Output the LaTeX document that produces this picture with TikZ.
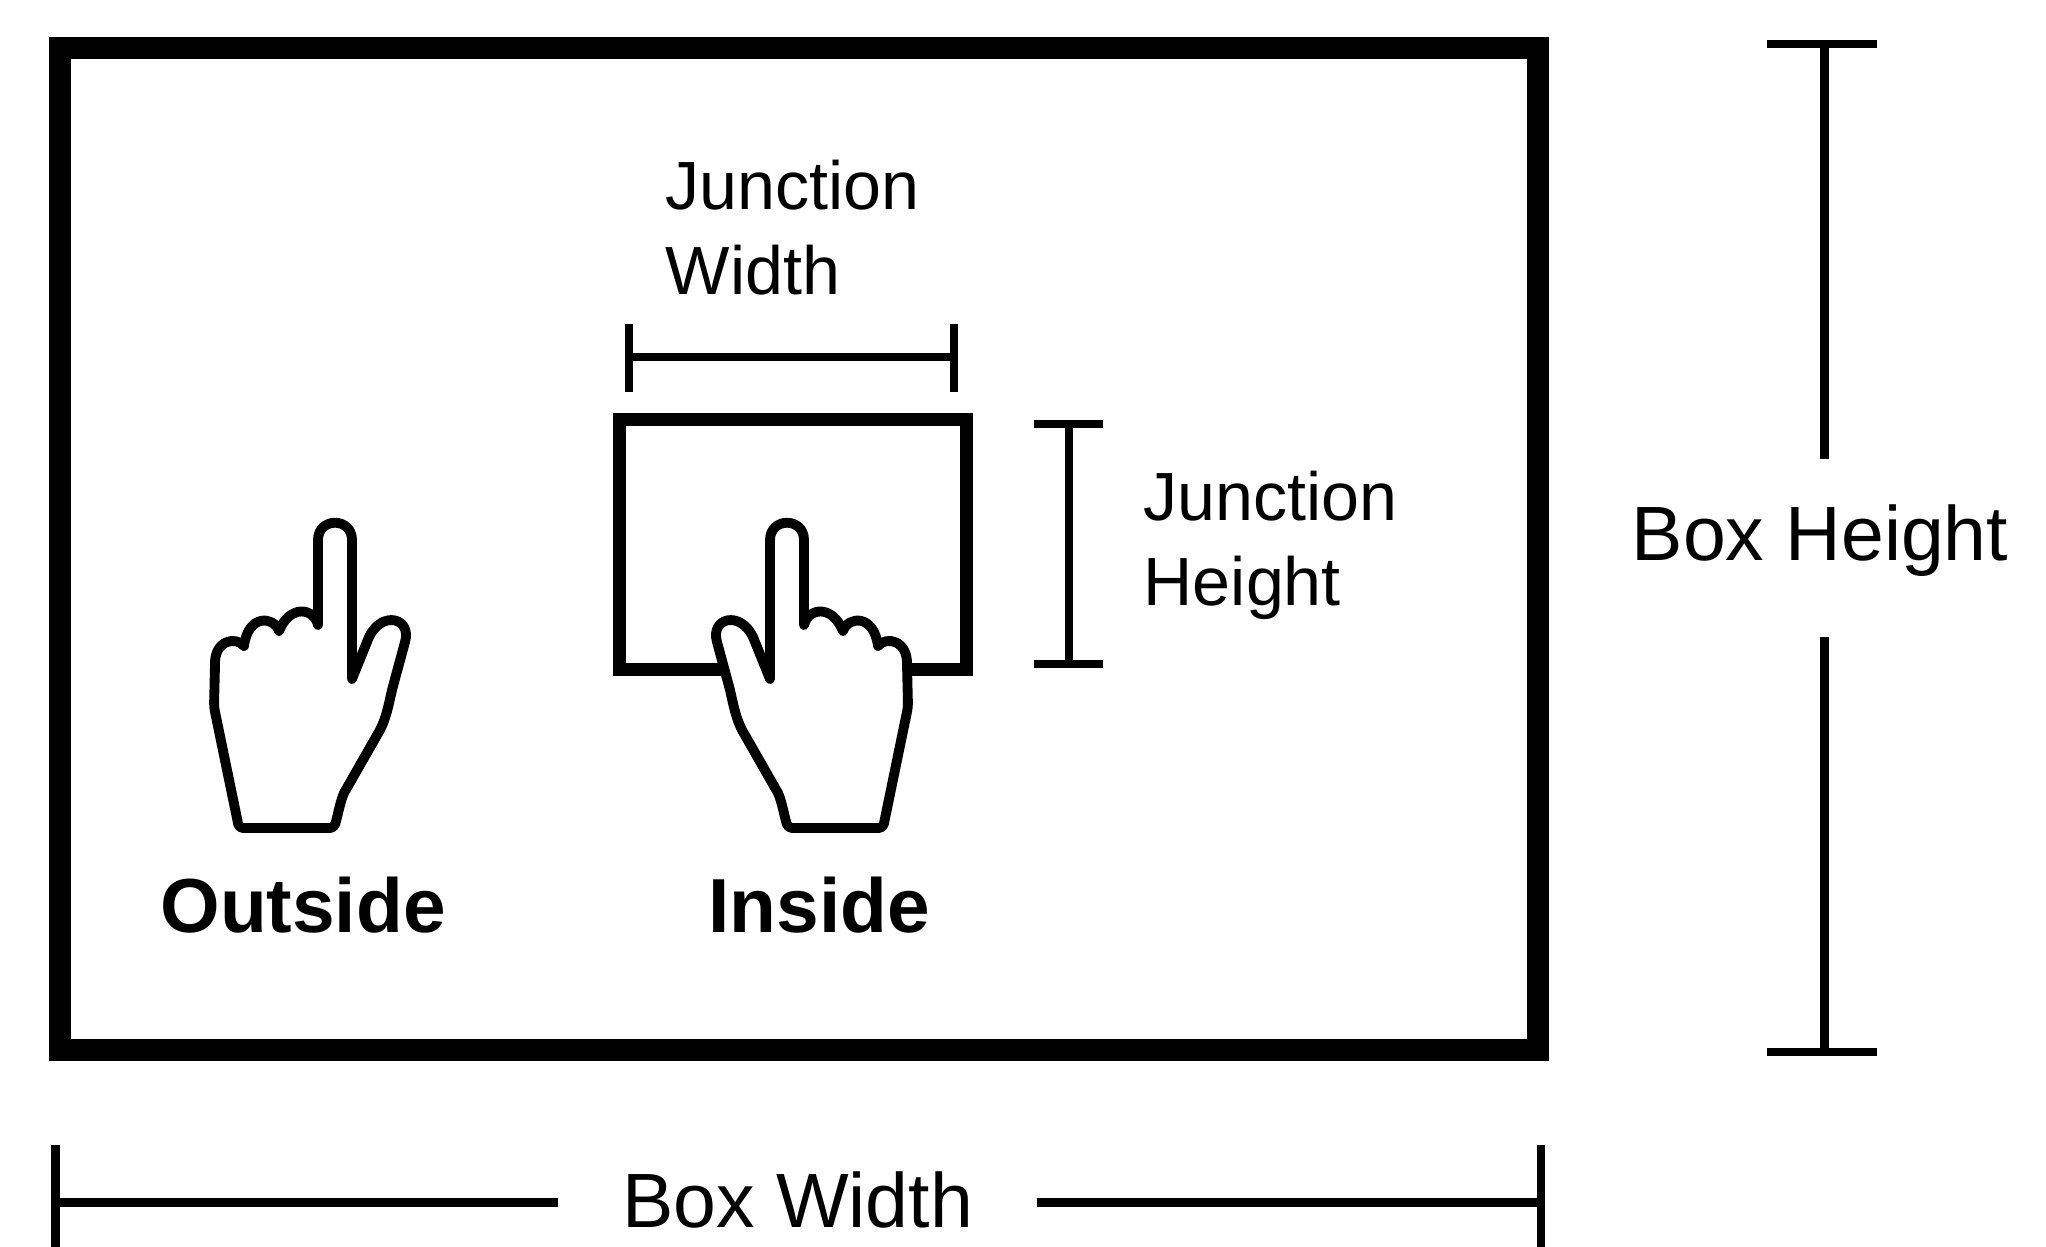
\documentclass[tikz,border=0pt]{standalone}
\usepackage{fontspec}
\setmainfont{Liberation Sans}
\tikzset{
  hand/.pic={
    \draw[line width=2.8pt,line join=round,fill=white]
      (-20,-151) -- (-20,-290) .. controls (-20,-313) and (14,-313) .. (14,-290)
      -- (14,-205) .. controls (18,-222) and (42,-226) .. (53,-199)
      .. controls (58,-214) and (84,-216) .. (88,-184)
      .. controls (96,-194) and (118,-190) .. (117,-165)
      [rounded corners=0.4mm] -- (118,-123) -- (93,-2) -- (-2,-2) [sharp corners]
      .. controls (-6,-15) and (-8,-28) .. (-12,-37)
      -- (-48,-100) .. controls (-54,-112) and (-56,-122) .. (-60,-140)
      -- (-73,-188) .. controls (-80,-212) and (-50,-220) .. (-37,-193) -- cycle;
  }
}
\begin{document}
\begin{tikzpicture}[x=0.1mm,y=-0.1mm,
  dimline/.style={line width=2.4pt},
  bigtext/.style={font=\fontsize{21.9}{26}\selectfont,inner sep=0pt},
  smalltext/.style={font=\fontsize{19.4}{24.2}\selectfont,inner sep=0pt,align=left,anchor=west},
  boldtext/.style={font=\fontsize{21.8}{26}\selectfont\bfseries,inner sep=0pt}]
\useasboundingbox (0,0) rectangle (2046,1247);

\draw[line width=6.1pt] (60,48) rectangle (1538,1050);
\draw[line width=3.7pt] (619.5,419.5) rectangle (966.5,669.5);

\pic at (790,830) {hand};
\pic[xscale=-1] at (332,830) {hand};

\node[boldtext] (outside) at (303,905) {Outside};
\node[boldtext] (inside) at (819,905) {Inside};
\node[smalltext] (jwidth) at (665,228) {Junction\\Width};
\node[smalltext] (jheight) at (1143,545.5) {Junction\\Height};
\node[bigtext,minimum width=47.7mm,minimum height=1pt,text depth=0.5mm] (bwidth) at (797.5,1202.5) {Box Width};
\node[bigtext,minimum height=17.6mm,text depth=3.1mm] (bheight) at (1820,548) {Box Height};

\coordinate (jwl) at (629,357);
\coordinate (jwr) at (954,357);
\coordinate (jwlt) at (629,324);
\coordinate (jwlb) at (629,392);
\coordinate (jwrt) at (954,324);
\coordinate (jwrb) at (954,392);
\coordinate (jht) at (1069,424);
\coordinate (jhb) at (1069,664);
\coordinate (jhtl) at (1034,424);
\coordinate (jhtr) at (1103,424);
\coordinate (jhbl) at (1034,664);
\coordinate (jhbr) at (1103,664);
\coordinate (bwl) at (55.5,1202.5);
\coordinate (bwr) at (1541,1202.5);
\coordinate (bwlt) at (55.5,1145);
\coordinate (bwlb) at (55.5,1247);
\coordinate (bwrt) at (1541,1145);
\coordinate (bwrb) at (1541,1247);
\coordinate (bht) at (1824.5,44);
\coordinate (bhb) at (1824.5,1052);
\coordinate (bhtl) at (1767,44);
\coordinate (bhtr) at (1877,44);
\coordinate (bhbl) at (1767,1052);
\coordinate (bhbr) at (1877,1052);

\draw[dimline] (jwl) -- (jwr);
\draw[dimline] (jwlt) -- (jwlb);
\draw[dimline] (jwrt) -- (jwrb);
\draw[dimline] (jht) -- (jhb);
\draw[dimline] (jhtl) -- (jhtr);
\draw[dimline] (jhbl) -- (jhbr);
\draw[dimline] (bwl) -- (bwidth.west);
\draw[dimline] (bwidth.east) -- (bwr);
\draw[dimline] (bwlt) -- (bwlb);
\draw[dimline] (bwrt) -- (bwrb);
\draw[dimline] (bht) -- (bht |- bheight.north);
\draw[dimline] (bht |- bheight.south) -- (bhb);
\draw[dimline] (bhtl) -- (bhtr);
\draw[dimline] (bhbl) -- (bhbr);
\end{tikzpicture}
\end{document}
